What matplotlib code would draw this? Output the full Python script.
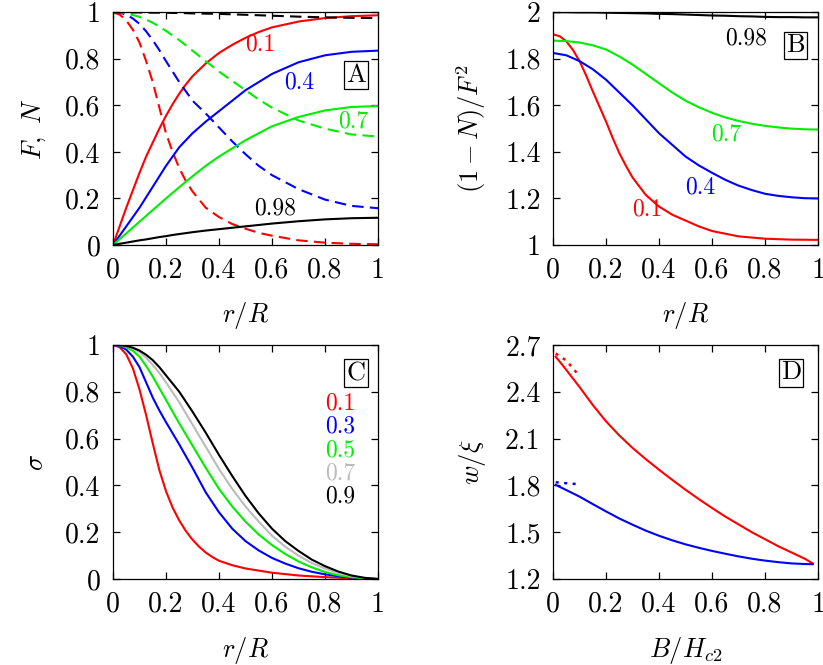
import matplotlib
matplotlib.use("Agg")
import matplotlib.pyplot as plt

plt.rcParams['font.family'] = 'serif'
plt.rcParams['font.serif'] = ['cmr10']
plt.rcParams['mathtext.fontset'] = 'cm'
plt.rcParams['axes.formatter.use_mathtext'] = True
plt.rcParams['axes.unicode_minus'] = False

# ---- panel A: F (solid) and N (dashed) vs r/R ----
r_a = [0, 0.025, 0.05, 0.075, 0.1, 0.125, 0.15, 0.175, 0.2, 0.225, 0.25, 0.275, 0.3,
       0.35, 0.4, 0.45, 0.5, 0.55, 0.6, 0.7, 0.8, 0.9, 1.0]
F_01 = [0, 0.08, 0.16, 0.235, 0.31, 0.38, 0.44, 0.50, 0.555, 0.605, 0.65, 0.69, 0.725,
        0.78, 0.825, 0.86, 0.89, 0.915, 0.935, 0.96, 0.975, 0.983, 0.987]
F_04 = [0, 0.04, 0.08, 0.12, 0.16, 0.205, 0.25, 0.295, 0.34, 0.38, 0.42, 0.45, 0.48,
        0.53, 0.575, 0.62, 0.665, 0.70, 0.735, 0.785, 0.815, 0.83, 0.835]
F_07 = [0, 0.025, 0.05, 0.075, 0.1, 0.125, 0.15, 0.175, 0.2, 0.224, 0.248, 0.272, 0.295,
        0.34, 0.38, 0.415, 0.45, 0.48, 0.51, 0.55, 0.578, 0.593, 0.597]
F_098 = [0, 0.005, 0.01, 0.015, 0.02, 0.024, 0.029, 0.034, 0.038, 0.043, 0.047, 0.051, 0.055,
         0.062, 0.068, 0.074, 0.08, 0.086, 0.092, 0.102, 0.11, 0.115, 0.117]
N_01 = [1.0, 0.99, 0.965, 0.925, 0.87, 0.79, 0.70, 0.59, 0.48, 0.40, 0.33, 0.275, 0.23,
        0.16, 0.12, 0.09, 0.07, 0.052, 0.04, 0.02, 0.01, 0.005, 0.003]
N_04 = [1.0, 0.998, 0.99, 0.973, 0.95, 0.918, 0.88, 0.837, 0.79, 0.745, 0.70, 0.66, 0.62,
        0.565, 0.505, 0.445, 0.39, 0.34, 0.30, 0.24, 0.195, 0.168, 0.158]
N_07 = [1.0, 0.999, 0.995, 0.988, 0.98, 0.968, 0.955, 0.938, 0.92, 0.90, 0.88, 0.858, 0.835,
        0.79, 0.745, 0.705, 0.665, 0.625, 0.59, 0.535, 0.50, 0.475, 0.466]
N_098 = [1.0, 1.0, 1.0, 0.999, 0.999, 0.999, 0.998, 0.998, 0.998, 0.997, 0.997, 0.996, 0.995,
         0.994, 0.993, 0.991, 0.989, 0.987, 0.985, 0.981, 0.978, 0.976, 0.975]

# ---- panel B: (1-N)/F^2 vs r/R ----
r_b1 = [0, 0.025, 0.05, 0.075, 0.1, 0.125, 0.15, 0.175, 0.2, 0.225, 0.25, 0.275, 0.3,
        0.35, 0.4, 0.45, 0.5, 0.55, 0.6, 0.7, 0.8, 0.9, 1.0]
B_01 = [1.905, 1.897, 1.875, 1.838, 1.79, 1.728, 1.66, 1.595, 1.53, 1.46, 1.395, 1.34, 1.29,
        1.215, 1.165, 1.13, 1.105, 1.08, 1.06, 1.037, 1.027, 1.023, 1.022]
r_b2 = [0, 0.05, 0.1, 0.15, 0.2, 0.25, 0.3, 0.35, 0.4, 0.45, 0.5,
        0.55, 0.6, 0.65, 0.7, 0.75, 0.8, 0.85, 0.9, 0.95, 1.0]
B_04 = [1.825, 1.815, 1.79, 1.755, 1.71, 1.655, 1.60, 1.54, 1.48, 1.43, 1.38,
        1.342, 1.31, 1.28, 1.255, 1.236, 1.22, 1.211, 1.205, 1.201, 1.2]
B_07 = [1.878, 1.876, 1.87, 1.858, 1.84, 1.81, 1.775, 1.735, 1.695, 1.655, 1.62,
        1.592, 1.568, 1.548, 1.533, 1.521, 1.512, 1.505, 1.50, 1.497, 1.496]
B_098 = [2.0, 2.0, 1.999, 1.999, 1.998, 1.997, 1.996, 1.995, 1.993, 1.992, 1.99,
         1.988, 1.986, 1.985, 1.983, 1.982, 1.98, 1.979, 1.979, 1.978, 1.978]

# ---- panel C: sigma vs r/R ----
r_c1 = [0, 0.025, 0.05, 0.075, 0.1, 0.125, 0.15, 0.175, 0.2, 0.225, 0.25, 0.275, 0.3,
        0.325, 0.35, 0.375, 0.4, 0.45, 0.5, 0.6, 0.7, 0.8, 0.9, 1.0]
S_01 = [1.0, 0.99, 0.96, 0.9, 0.81, 0.7, 0.58, 0.465, 0.375, 0.305, 0.25, 0.205, 0.168,
        0.138, 0.113, 0.094, 0.078, 0.059, 0.045, 0.027, 0.015, 0.008, 0.003, 0.0]
r_c2 = [0, 0.025, 0.05, 0.075, 0.1, 0.125, 0.15, 0.175, 0.2, 0.25, 0.3, 0.35, 0.4, 0.45,
        0.5, 0.55, 0.6, 0.65, 0.7, 0.75, 0.8, 0.85, 0.9, 0.95, 1.0]
S_03 = [1.0, 0.995, 0.98, 0.95, 0.905, 0.84, 0.775, 0.72, 0.67, 0.575, 0.475, 0.37, 0.285, 0.215,
        0.162, 0.122, 0.09, 0.066, 0.046, 0.031, 0.02, 0.012, 0.006, 0.002, 0.0]
S_05 = [1.0, 0.998, 0.99, 0.975, 0.95, 0.91, 0.865, 0.815, 0.765, 0.665, 0.57, 0.475, 0.385, 0.31,
        0.245, 0.19, 0.145, 0.107, 0.075, 0.05, 0.03, 0.016, 0.008, 0.002, 0.0]
S_07 = [1.0, 0.999, 0.995, 0.985, 0.97, 0.945, 0.915, 0.88, 0.84, 0.755, 0.66, 0.565, 0.47, 0.385,
        0.31, 0.245, 0.185, 0.138, 0.1, 0.068, 0.045, 0.026, 0.012, 0.004, 0.0]
S_09 = [1.0, 0.999, 0.996, 0.988, 0.976, 0.958, 0.935, 0.905, 0.87, 0.8, 0.715, 0.625, 0.53, 0.44,
        0.355, 0.28, 0.215, 0.162, 0.12, 0.083, 0.055, 0.032, 0.015, 0.005, 0.0]

# ---- panel D: w/xi vs B/Hc2 ----
b_d = [0.01, 0.05, 0.1, 0.15, 0.2, 0.25, 0.3, 0.35, 0.4, 0.45, 0.5,
       0.55, 0.6, 0.65, 0.7, 0.75, 0.8, 0.85, 0.9, 0.95, 0.98]
W_red = [2.625, 2.54, 2.43, 2.315, 2.21, 2.12, 2.04, 1.968, 1.90, 1.835, 1.772,
         1.712, 1.655, 1.60, 1.55, 1.50, 1.455, 1.41, 1.37, 1.33, 1.30]
W_blue = [1.803, 1.77, 1.728, 1.68, 1.633, 1.588, 1.548, 1.51, 1.477, 1.448, 1.422,
          1.40, 1.38, 1.362, 1.345, 1.33, 1.318, 1.308, 1.30, 1.296, 1.295]
b_dot = [0.01, 0.05, 0.1]
W_red_dot = [2.645, 2.6, 2.5]
W_blue_dot = [1.82, 1.814, 1.807]

RED, BLUE, GREEN, GRAY, BLACK = '#ff0000', '#0000ff', '#00ee00', '#bbbbbb', '#000000'
DASH = (0, (5.5, 3))
DOT = (0, (1.2, 2.2))
LW = 1.5
TICK_FS = 20
LAB_FS = 19
NOTE_FS = 17

fig = plt.figure(figsize=(8.23, 6.65), dpi=100)
axA = fig.add_axes([0.1373, 0.6316, 0.322, 0.350])
axB = fig.add_axes([0.6720, 0.6316, 0.322, 0.350])
axC = fig.add_axes([0.1373, 0.1293, 0.322, 0.352])
axD = fig.add_axes([0.6720, 0.1293, 0.322, 0.352])


def style(ax, yticks, ylim, ytl):
    ax.set_xlim(0, 1)
    ax.set_ylim(*ylim)
    ax.set_xticks([0, 0.2, 0.4, 0.6, 0.8, 1])
    ax.set_xticklabels(['0', '0.2', '0.4', '0.6', '0.8', '1'])
    ax.set_yticks(yticks)
    ax.set_yticklabels(ytl)
    ax.tick_params(direction='in', top=True, right=True, length=5, width=0.9,
                   labelsize=TICK_FS, pad=9)
    for s in ax.spines.values():
        s.set_linewidth(0.9)


def boxlabel(ax, x, y, s):
    ax.text(x, y, s, fontsize=19, ha='center', va='center',
            bbox=dict(boxstyle='square,pad=0.08', fc='white', ec='black', lw=0.9))


# A
for F, N, c in [(F_01, N_01, RED), (F_04, N_04, BLUE), (F_07, N_07, GREEN), (F_098, N_098, BLACK)]:
    axA.plot(r_a, F, color=c, lw=LW)
    axA.plot(r_a, N, color=c, lw=LW, linestyle=DASH)
style(axA, [0, 0.2, 0.4, 0.6, 0.8, 1], (0, 1), ['0', '0.2', '0.4', '0.6', '0.8', '1'])
axA.text(0.557, 0.86, '0.1', color=RED, fontsize=NOTE_FS, ha='center', va='center')
axA.text(0.704, 0.70, '0.4', color=BLUE, fontsize=NOTE_FS, ha='center', va='center')
axA.text(0.906, 0.53, '0.7', color=GREEN, fontsize=NOTE_FS, ha='center', va='center')
axA.text(0.61, 0.158, '0.98', color=BLACK, fontsize=NOTE_FS, ha='center', va='center')
boxlabel(axA, 0.918, 0.73, 'A')
axA.set_ylabel(r'$F,\ N$', fontsize=LAB_FS, labelpad=12)
axA.set_xlabel(r'$r/R$', fontsize=LAB_FS, labelpad=12)

# B
axB.plot(r_b1, B_01, color=RED, lw=LW)
for y, c in [(B_04, BLUE), (B_07, GREEN), (B_098, BLACK)]:
    axB.plot(r_b2, y, color=c, lw=LW)
style(axB, [1, 1.2, 1.4, 1.6, 1.8, 2], (1, 2), ['1', '1.2', '1.4', '1.6', '1.8', '2'])
axB.text(0.73, 1.888, '0.98', color=BLACK, fontsize=NOTE_FS, ha='center', va='center')
axB.text(0.655, 1.476, '0.7', color=GREEN, fontsize=NOTE_FS, ha='center', va='center')
axB.text(0.555, 1.247, '0.4', color=BLUE, fontsize=NOTE_FS, ha='center', va='center')
axB.text(0.354, 1.153, '0.1', color=RED, fontsize=NOTE_FS, ha='center', va='center')
boxlabel(axB, 0.916, 1.857, 'B')
axB.set_ylabel(r'$(1-N)/F^2$', fontsize=LAB_FS, labelpad=12)
axB.set_xlabel(r'$r/R$', fontsize=LAB_FS, labelpad=12)

# C
axC.plot(r_c1, S_01, color=RED, lw=LW)
for y, c in [(S_03, BLUE), (S_05, GREEN), (S_07, GRAY), (S_09, BLACK)]:
    axC.plot(r_c2, y, color=c, lw=LW)
style(axC, [0, 0.2, 0.4, 0.6, 0.8, 1], (0, 1), ['0', '0.2', '0.4', '0.6', '0.8', '1'])
for lab, yy, c in [('0.1', 0.75, RED), ('0.3', 0.65, BLUE), ('0.5', 0.551, GREEN),
                   ('0.7', 0.452, GRAY), ('0.9', 0.352, BLACK)]:
    axC.text(0.914, yy, lab, color=c, fontsize=NOTE_FS, ha='right', va='center')
boxlabel(axC, 0.917, 0.879, 'C')
axC.set_ylabel(r'$\sigma$', fontsize=LAB_FS, labelpad=12)
axC.set_xlabel(r'$r/R$', fontsize=LAB_FS, labelpad=12)

# D
axD.plot(b_d, W_red, color=RED, lw=LW)
axD.plot(b_d, W_blue, color=BLUE, lw=LW)
axD.plot(b_dot, W_red_dot, color=RED, lw=LW + 0.3, linestyle=DOT)
axD.plot(b_dot, W_blue_dot, color=BLUE, lw=LW + 0.3, linestyle=DOT)
style(axD, [1.2, 1.5, 1.8, 2.1, 2.4, 2.7], (1.2, 2.7), ['1.2', '1.5', '1.8', '2.1', '2.4', '2.7'])
boxlabel(axD, 0.897, 2.523, 'D')
axD.set_ylabel(r'$w/\xi$', fontsize=LAB_FS, labelpad=12)
axD.set_xlabel(r'$B/H_{c2}$', fontsize=LAB_FS, labelpad=12)

fig.savefig('out.png', dpi=100)
